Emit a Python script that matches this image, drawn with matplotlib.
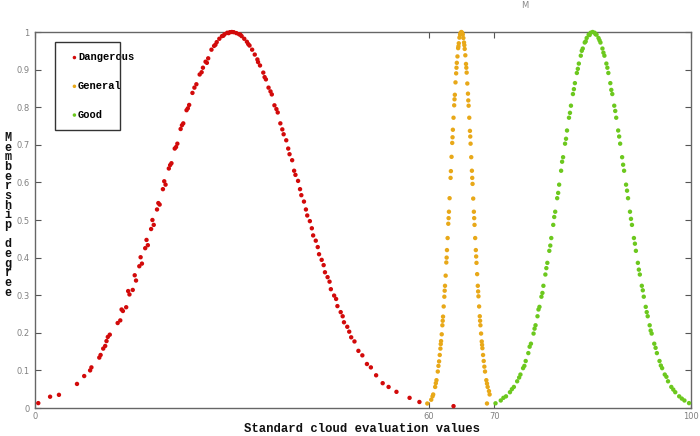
import matplotlib.pyplot as plt
from matplotlib.patches import Rectangle

# cloud drops (x = evaluation value, y = membership)
dangerous_x = [25.1, 25.6, 26.0, 26.4, 26.9, 27.3, 27.7, 28.1, 28.5, 28.9, 29.3, 29.7, 30.0,
               30.3, 30.7, 31.1, 31.5, 31.9, 32.3, 32.7, 33.1, 33.5, 33.9, 34.3, 34.8, 35.2,
               25.4, 26.2, 27.5, 28.7, 29.5, 31.3, 32.5, 34.0, 35.0,
               24.6, 24.0, 23.5, 23.1, 22.6, 22.2, 21.7, 21.3, 20.8, 20.4, 19.9, 19.5, 19.0,
               18.6, 18.1, 17.7, 17.2, 16.8, 16.3, 15.9, 15.4, 14.9, 14.4, 13.9, 13.4, 13.0,
               12.6, 11.4, 11.1, 10.9, 10.7, 10.4, 10.0, 9.8, 8.6, 8.4, 7.5, 6.4, 3.65, 2.3, 0.5,
               24.3, 23.3, 22.4, 21.5, 20.6, 19.7, 18.8, 17.9, 17.0, 16.1, 15.2, 14.2, 13.2,
               35.6, 36.1, 36.5, 37.0, 37.4, 37.9, 38.3, 38.8, 39.2, 39.7, 40.1, 40.6, 41.0,
               41.5, 41.9, 42.4, 42.8, 43.3, 43.7, 44.2, 44.6, 45.1, 45.6, 46.1, 46.6, 47.1,
               47.6, 48.2, 48.7, 49.3, 49.9, 50.6, 51.2, 52.0, 53.0, 53.9, 55.1, 57.1, 58.6, 63.8,
               35.9, 36.8, 37.7, 38.6, 39.5, 40.4, 41.3, 42.2, 43.1, 44.0, 44.9, 45.9, 46.9, 47.9]
dangerous_y = [0.887, 0.905, 0.921, 0.930, 0.953, 0.963, 0.973, 0.982, 0.989, 0.994, 0.998, 0.9995, 1.0,
               0.9995, 0.997, 0.994, 0.989, 0.982, 0.974, 0.964, 0.953, 0.940, 0.927, 0.911, 0.892, 0.874,
               0.893, 0.918, 0.966, 0.990, 0.997, 0.993, 0.968, 0.920, 0.880,
               0.861, 0.838, 0.806, 0.792, 0.757, 0.742, 0.703, 0.690, 0.651, 0.637, 0.594, 0.582, 0.541,
               0.528, 0.487, 0.476, 0.433, 0.425, 0.384, 0.377, 0.339, 0.314, 0.302, 0.268, 0.258, 0.233,
               0.226, 0.195, 0.189, 0.178, 0.165, 0.158, 0.141, 0.134, 0.108, 0.100, 0.085, 0.064, 0.035, 0.030, 0.013,
               0.852, 0.797, 0.752, 0.694, 0.646, 0.603, 0.545, 0.500, 0.447, 0.401, 0.353, 0.311, 0.262,
               0.852, 0.834, 0.805, 0.786, 0.757, 0.728, 0.712, 0.675, 0.659, 0.620, 0.604, 0.566, 0.549,
               0.512, 0.497, 0.459, 0.445, 0.409, 0.394, 0.361, 0.348, 0.316, 0.299, 0.271, 0.255, 0.228,
               0.216, 0.188, 0.177, 0.152, 0.140, 0.117, 0.108, 0.087, 0.066, 0.056, 0.043, 0.027, 0.016, 0.005,
               0.842, 0.795, 0.741, 0.690, 0.631, 0.582, 0.528, 0.478, 0.428, 0.380, 0.336, 0.290, 0.244, 0.203]

general_x = [64.9, 64.8, 64.7, 64.6, 64.5, 64.4, 64.3, 64.2, 64.1, 64.0, 63.9, 63.8, 63.7, 63.6,
             63.5, 63.4, 63.2, 63.1, 63.0, 62.9, 62.8, 62.7, 62.6, 62.5, 62.4, 62.3, 62.2, 62.1,
             62.0, 61.9, 61.8, 61.7, 61.6, 61.4, 61.2, 61.0, 60.7, 60.4, 59.8,
             64.85, 64.55, 64.25, 63.95, 63.65, 63.35, 63.05, 62.75, 62.45, 62.15, 61.85, 61.5, 61.1, 60.6,
             65.0, 65.1, 65.2, 65.3, 65.4, 65.5, 65.6, 65.7, 65.8, 65.9, 66.0, 66.1, 66.2, 66.3, 66.4,
             66.5, 66.6, 66.7, 66.8, 66.9, 67.0, 67.1, 67.2, 67.3, 67.4, 67.5, 67.6, 67.7, 67.8,
             67.9, 68.0, 68.1, 68.2, 68.3, 68.4, 68.6, 68.8, 69.0, 69.2, 69.3, 68.9,
             65.15, 65.45, 65.75, 66.05, 66.35, 66.65, 66.95, 67.25, 67.55, 67.85, 68.15, 68.5, 68.9]
general_y = [0.998, 0.993, 0.985, 0.970, 0.957, 0.935, 0.918, 0.890, 0.866, 0.833, 0.805, 0.772, 0.740, 0.705,
             0.668, 0.630, 0.558, 0.522, 0.490, 0.452, 0.420, 0.387, 0.352, 0.325, 0.296, 0.270, 0.243, 0.220,
             0.196, 0.178, 0.158, 0.141, 0.124, 0.097, 0.074, 0.056, 0.036, 0.022, 0.012,
             0.995, 0.962, 0.905, 0.821, 0.720, 0.612, 0.505, 0.400, 0.312, 0.232, 0.170, 0.112, 0.066, 0.031,
             1.0, 0.998, 0.993, 0.984, 0.972, 0.955, 0.938, 0.915, 0.892, 0.863, 0.836, 0.804, 0.772, 0.737, 0.703,
             0.667, 0.631, 0.596, 0.557, 0.522, 0.487, 0.452, 0.420, 0.386, 0.356, 0.325, 0.297, 0.270, 0.244,
             0.220, 0.198, 0.177, 0.159, 0.141, 0.125, 0.097, 0.074, 0.056, 0.045, 0.036, 0.012,
             0.995, 0.965, 0.905, 0.818, 0.722, 0.612, 0.505, 0.403, 0.310, 0.232, 0.168, 0.110, 0.065]

good_x = [84.7, 84.4, 84.1, 83.8, 83.5, 83.2, 82.9, 82.6, 82.3, 82.0, 81.7, 81.4, 81.1, 80.8,
          80.5, 80.2, 79.9, 79.6, 79.3, 79.0, 78.7, 78.4, 78.1, 77.8, 77.5, 77.2, 76.9, 76.6,
          76.3, 76.0, 75.6, 75.2, 74.8, 74.4, 74.0, 73.5, 73.0, 72.4, 71.8, 71.0, 70.2,
          84.55, 83.95, 83.35, 82.75, 82.15, 81.55, 80.95, 80.35, 79.75, 79.15, 78.55, 77.95,
          77.35, 76.75, 76.15, 75.4, 74.6, 73.8, 72.7, 71.4,
          85.0, 85.3, 85.6, 85.9, 86.2, 86.5, 86.8, 87.1, 87.4, 87.7, 88.0, 88.3, 88.6, 88.9, 89.2,
          89.5, 89.8, 90.1, 90.4, 90.7, 91.0, 91.3, 91.6, 91.9, 92.2, 92.5, 92.8, 93.1, 93.4,
          93.7, 94.0, 94.4, 94.8, 95.2, 95.6, 96.0, 96.5, 97.0, 97.6, 98.2, 99.0, 99.7,
          85.45, 86.05, 86.65, 87.25, 87.85, 88.45, 89.05, 89.65, 90.25, 90.85, 91.45, 92.05,
          92.65, 93.25, 93.85, 94.6, 95.4, 96.25, 97.3, 98.6]
good_y = [0.998, 0.993, 0.984, 0.972, 0.956, 0.937, 0.916, 0.891, 0.864, 0.835, 0.804, 0.772, 0.738, 0.703,
          0.667, 0.631, 0.594, 0.558, 0.522, 0.487, 0.452, 0.418, 0.386, 0.355, 0.325, 0.296, 0.269, 0.244,
          0.220, 0.198, 0.171, 0.146, 0.125, 0.106, 0.089, 0.071, 0.056, 0.042, 0.031, 0.020, 0.0125,
          0.992, 0.975, 0.950, 0.902, 0.848, 0.785, 0.716, 0.655, 0.572, 0.508, 0.432, 0.372,
          0.306, 0.262, 0.211, 0.163, 0.112, 0.081, 0.050, 0.027,
          1.0, 0.998, 0.993, 0.984, 0.972, 0.956, 0.937, 0.916, 0.891, 0.864, 0.835, 0.804, 0.772, 0.738, 0.703,
          0.667, 0.631, 0.594, 0.558, 0.522, 0.487, 0.452, 0.418, 0.386, 0.355, 0.325, 0.296, 0.269, 0.244,
          0.220, 0.198, 0.171, 0.146, 0.125, 0.106, 0.089, 0.071, 0.056, 0.042, 0.031, 0.020, 0.013,
          0.994, 0.978, 0.945, 0.905, 0.846, 0.790, 0.722, 0.647, 0.578, 0.503, 0.437, 0.368,
          0.313, 0.255, 0.206, 0.160, 0.113, 0.083, 0.049, 0.025]

labels = ['Dangerous', 'General', 'Good']
colors = ['#d20a0a', '#e8a818', '#6cc81e']
x_ticks = [0, 60, 70, 100]
y_ticks = [0, 0.1, 0.2, 0.3, 0.4, 0.5, 0.6, 0.7, 0.8, 0.9, 1]
y_tick_labels = ['0', '0.1', '0.2', '0.3', '0.4', '0.5', '0.6', '0.7', '0.8', '0.9', '1']

mono = 'Liberation Mono'

fig = plt.figure(figsize=(7, 4.36), dpi=100)
ax = fig.add_axes([35 / 700, 1 - 408 / 436, 656 / 700, 376 / 436])

clouds = [(dangerous_x, dangerous_y), (general_x, general_y), (good_x, good_y)]
for (cx, cy), lab, col in zip(clouds, labels, colors):
    ax.scatter(cx, cy, s=10, color=col, edgecolors='none', label=lab, clip_on=False, zorder=3)

ax.set_xlim(0, 100)
ax.set_ylim(0, 1)
ax.set_xticks(x_ticks)
ax.set_xticklabels([str(t) for t in x_ticks])
ax.set_yticks(y_ticks)
ax.set_yticklabels(y_tick_labels)
ax.tick_params(direction='in', top=True, right=True, length=4, width=0.8,
               color='#555555', labelsize=6, labelcolor='#808080', pad=4)
ax.tick_params(axis='x', pad=3)
for sp in ax.spines.values():
    sp.set_color('#666666')
    sp.set_linewidth(1.0)

# legend: frame drawn as its own box, entries spill past it like the original
fig.patches.append(Rectangle((55 / 700, 1 - 130 / 436), 65 / 700, 88 / 436,
                             transform=fig.transFigure, fill=False,
                             edgecolor='#333333', linewidth=1.0))
ax.legend(loc='upper left', bbox_to_anchor=(64 / 700, 1 - 45 / 436),
          bbox_transform=fig.transFigure, frameon=False, scatterpoints=1,
          markerscale=0.8, handlelength=0.6, handletextpad=0.05, labelspacing=1.8,
          borderpad=0.2, prop={'family': mono, 'size': 7.5, 'weight': 'bold'})

fig.text(362 / 700, 1 - 429 / 436, 'Standard cloud evaluation values', family=mono,
         fontsize=8.8, fontweight='bold', ha='center', va='center', color='#111111')
fig.text(8 / 700, 1 - 132 / 436, '\n'.join('Membership') + '\n\n' + '\n'.join('degree'),
         family=mono, fontsize=8.5, fontweight='bold', ha='center', va='top',
         linespacing=0.74, color='#111111')
fig.text(525 / 700, 1 - 6 / 436, 'M', fontsize=6, color='#888888', ha='center', va='center')

fig.savefig('out.png', dpi=100)
